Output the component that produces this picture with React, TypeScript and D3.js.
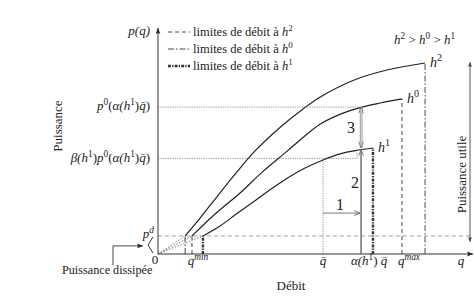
import React from "react";
import * as d3 from "d3";

const W = 474;
const H = 297;

// ---- data (q: débit, p: puissance, both in % of axis length) ----
const qH2 = [8.7, 13.5, 18.3, 25.3, 31.1, 39.1, 46.8, 51.9, 62.5, 73.4, 85.6];
const pH2 = [8.0, 15.9, 24.3, 36.3, 45.6, 56.0, 64.5, 69.4, 76.8, 81.4, 84.5];
const qH0 = [10.9, 18.3, 26.3, 33.3, 41.3, 46.8, 51.9, 58.3, 65.1, 71.2, 78.2];
const pH0 = [8.0, 17.7, 27.0, 36.1, 45.4, 51.9, 57.4, 61.8, 64.9, 66.8, 68.6];
const qH1 = [14.4, 19.9, 25.3, 31.1, 35.9, 41.3, 46.8, 52.9, 58.3, 63.8, 68.9];
const pH1 = [8.0, 12.4, 17.9, 23.6, 28.4, 33.4, 37.8, 41.6, 44.3, 45.9, 46.9];

const pD = 8.0;
const qBar = 52.9;
const alphaQBar = 65.1;
const p0Level = 65.0;
const betaLevel = 42.3;
const pAtAlphaH1 = 46.2;
const step1Level = 18.1;

const curveNames = ["2", "0", "1"];
const legendNames = ["2", "0", "1"];

type Seg = { t: string; i?: boolean; sup?: boolean };

const FONT = "'Liberation Serif', 'Times New Roman', serif";

function MathText(props: {
  x: number;
  y: number;
  segs: Seg[];
  anchor?: "start" | "middle" | "end";
  size?: number;
  fill?: string;
}) {
  const { x, y, segs, anchor = "start", size = 13, fill = "#222" } = props;
  let inSup = false;
  const spans = segs.map((s, k) => {
    let dy: number | undefined = undefined;
    if (s.sup && !inSup) {
      dy = -size * 0.42;
      inSup = true;
    } else if (!s.sup && inSup) {
      dy = size * 0.42;
      inSup = false;
    }
    return (
      <tspan
        key={k}
        dy={dy}
        fontStyle={s.i ? "italic" : "normal"}
        fontSize={s.sup ? size * 0.72 : size}
      >
        {s.t}
      </tspan>
    );
  });
  return (
    <text x={x} y={y} textAnchor={anchor} fontSize={size} fontFamily={FONT} fill={fill}>
      {spans}
    </text>
  );
}

const QBAR = "q\u0304";

const STYLE_DASH = { dash: "4,3", w: 0.9 };
const STYLE_DASHDOT = { dash: "6,2,1.5,2", w: 0.9 };
const STYLE_THICK = { dash: "3,1.2,1.2,1.2", w: 2.4 };

export default function App() {
  const x = d3.scaleLinear().domain([0, 100]).range([158, 470]);
  const y = d3.scaleLinear().domain([0, 100]).range([254, 28]);

  const line = d3
    .line<[number, number]>()
    .x((d) => x(d[0]))
    .y((d) => y(d[1]))
    .curve(d3.curveCatmullRom.alpha(0.5));

  const curves = [
    { q: qH2, p: pH2, name: curveNames[0], ...STYLE_DASHDOT },
    { q: qH0, p: pH0, name: curveNames[1], ...STYLE_DASH },
    { q: qH1, p: pH1, name: curveNames[2], ...STYLE_THICK },
  ];
  const legendStyles = [STYLE_DASH, STYLE_DASHDOT, STYLE_THICK];

  const axisColor = "#333";

  return (
    <svg
      width={W}
      height={H}
      style={{ position: "absolute", left: 0, top: 0, background: "#fff" }}
    >
      <defs>
        <marker id="ah" viewBox="0 0 10 10" refX="10" refY="5" markerWidth="9" markerHeight="6" markerUnits="userSpaceOnUse" orient="auto">
          <path d="M0,1 L10,5 L0,9 L2,5 Z" fill="#222" />
        </marker>
        <marker id="ahs" viewBox="0 0 10 10" refX="10" refY="5" markerWidth="8" markerHeight="5" markerUnits="userSpaceOnUse" orient="auto-start-reverse">
          <path d="M0,1 L10,5 L0,9 L2,5 Z" fill="#444" />
        </marker>
        <marker id="ahg" viewBox="0 0 10 10" refX="10" refY="5" markerWidth="8" markerHeight="6" markerUnits="userSpaceOnUse" orient="auto-start-reverse">
          <path d="M0,1 L10,5 L0,9" fill="none" stroke="#777" strokeWidth="1.6" />
        </marker>
      </defs>

      {/* reference dotted lines */}
      <line x1={x(0)} x2={x(alphaQBar)} y1={y(p0Level)} y2={y(p0Level)} stroke="#777" strokeWidth={0.8} strokeDasharray="1.2,1.2" />
      <line x1={x(0)} x2={x(alphaQBar) - 4} y1={y(betaLevel)} y2={y(betaLevel)} stroke="#777" strokeWidth={0.8} strokeDasharray="1.2,1.2" />
      <line x1={x(alphaQBar) - 4} x2={x(alphaQBar) - 4} y1={y(betaLevel)} y2={y(pAtAlphaH1)} stroke="#777" strokeWidth={0.8} strokeDasharray="1.2,1.2" />
      <line x1={x(qBar)} x2={x(qBar)} y1={y(0)} y2={y(betaLevel)} stroke="#777" strokeWidth={0.8} strokeDasharray="1.2,1.2" />
      {/* p^d dashed */}
      <line x1={x(0)} x2={x(100)} y1={y(pD)} y2={y(pD)} stroke="#888" strokeWidth={0.8} strokeDasharray="4,3" />

      {/* dotted fan from origin */}
      {curves.map((c) => (
        <line key={"f" + c.name} x1={x(0)} y1={y(0)} x2={x(c.q[0])} y2={y(c.p[0])} stroke="#666" strokeWidth={0.8} strokeDasharray="1.5,1.5" />
      ))}

      {/* limit verticals */}
      {curves.map((c) => (
        <g key={"v" + c.name}>
          <line x1={x(c.q[0])} x2={x(c.q[0])} y1={y(0)} y2={y(c.p[0])} stroke="#333" strokeWidth={c.w} strokeDasharray={c.dash} />
          <line x1={x(c.q[c.q.length - 1])} x2={x(c.q[c.q.length - 1])} y1={y(0)} y2={y(c.p[c.p.length - 1])} stroke="#333" strokeWidth={c.w} strokeDasharray={c.dash} />
        </g>
      ))}

      {/* curves */}
      {curves.map((c) => (
        <path
          key={"c" + c.name}
          d={line(c.q.map((q, i) => [q, c.p[i]] as [number, number])) || ""}
          fill="none"
          stroke="#222"
          strokeWidth={1.2}
        />
      ))}

      {/* curve labels */}
      {curves.map((c) => (
        <MathText
          key={"l" + c.name}
          x={x(c.q[c.q.length - 1]) + 5}
          y={y(c.p[c.p.length - 1]) + 4}
          segs={[{ t: "h", i: true }, { t: c.name, sup: true }]}
          size={14}
        />
      ))}

      {/* step arrows */}
      <line x1={x(qBar)} x2={x(alphaQBar) - 1} y1={y(step1Level)} y2={y(step1Level)} stroke="#777" strokeWidth={1} markerEnd="url(#ahg)" />
      <line x1={x(alphaQBar)} x2={x(alphaQBar)} y1={y(0)} y2={y(pAtAlphaH1)} stroke="#888" strokeWidth={1.8} markerEnd="url(#ahg)" />
      <line x1={x(alphaQBar)} x2={x(alphaQBar)} y1={y(pAtAlphaH1) - 2} y2={y(p0Level)} stroke="#888" strokeWidth={2.6} markerStart="url(#ahg)" markerEnd="url(#ahg)" />
      <line x1={x(alphaQBar)} x2={x(alphaQBar)} y1={y(pAtAlphaH1) - 4} y2={y(p0Level) + 2} stroke="#fff" strokeWidth={0.9} />
      <text x={x(qBar) + 17} y={y(step1Level) - 3} fontSize={16} fontFamily={FONT} textAnchor="middle" fill="#222">1</text>
      <text x={x(alphaQBar) - 6} y={y(pAtAlphaH1) + 38} fontSize={16} fontFamily={FONT} textAnchor="middle" fill="#222">2</text>
      <text x={x(alphaQBar) - 10} y={y((p0Level + pAtAlphaH1) / 2) + 5} fontSize={16} fontFamily={FONT} textAnchor="middle" fill="#222">3</text>

      {/* axes */}
      <line x1={x(0)} x2={x(0)} y1={y(0)} y2={28} stroke={axisColor} strokeWidth={1} markerEnd="url(#ah)" />
      <line x1={x(0)} x2={473} y1={y(0)} y2={y(0)} stroke={axisColor} strokeWidth={1} markerEnd="url(#ah)" />

      {/* puissance utile */}
      <line x1={470} x2={470} y1={y(pD) + 6} y2={y(84.5) - 1} stroke="#444" strokeWidth={0.9} markerStart="url(#ahs)" markerEnd="url(#ahs)" />
      <text transform={`translate(466,${(y(pD) + y(84.5)) / 2 + 25}) rotate(-90)`} fontSize={13} fontFamily={FONT} textAnchor="middle" fill="#222">Puissance utile</text>

      {/* puissance dissipée */}
      <path d={`M113,265 L113,${y(pD) + 10} L143,${y(pD) + 10}`} fill="none" stroke="#333" strokeWidth={0.9} markerEnd="url(#ah)" />
      <path d={`M153,${y(pD) + 1} L148,${(y(pD) + y(0)) / 2} L153,${y(0) - 1}`} fill="none" stroke="#333" strokeWidth={1} />
      <text x={62} y={274} fontSize={12.2} fontFamily={FONT} fill="#222">Puissance dissipée</text>

      {/* y labels */}
      <MathText x={150} y={35} anchor="end" segs={[{ t: "p(q)", i: true }]} />
      <MathText
        x={150}
        y={110}
        anchor="end"
        segs={[
          { t: "p", i: true },
          { t: "0", sup: true },
          { t: "(" },
          { t: "α(h", i: true },
          { t: "1", sup: true },
          { t: ")" },
          { t: QBAR, i: true },
          { t: ")" },
        ]}
      />
      <MathText
        x={150}
        y={162}
        anchor="end"
        segs={[
          { t: "β(h", i: true },
          { t: "1", sup: true },
          { t: ")" },
          { t: "p", i: true },
          { t: "0", sup: true },
          { t: "(" },
          { t: "α(h", i: true },
          { t: "1", sup: true },
          { t: ")" },
          { t: QBAR, i: true },
          { t: ")" },
        ]}
      />
      <MathText x={154} y={238} anchor="end" segs={[{ t: "p", i: true }, { t: "d", i: true, sup: true }]} />
      <text transform="translate(62,126) rotate(-90)" fontSize={13} fontFamily={FONT} textAnchor="middle" fill="#222">Puissance</text>

      {/* x labels */}
      <MathText x={x(0) - 3} y={264} anchor="middle" segs={[{ t: "0" }]} />
      <MathText x={x(qH1[0]) - 5} y={265} anchor="middle" segs={[{ t: "q", i: true }, { t: "min", i: true, sup: true }]} />
      <MathText x={x(qBar)} y={265} anchor="middle" segs={[{ t: QBAR, i: true }]} />
      <MathText
        x={x(alphaQBar) + 8}
        y={265}
        anchor="middle"
        segs={[{ t: "α(h", i: true }, { t: "1", sup: true }, { t: ")" }, { t: " " + QBAR, i: true }]}
      />
      <MathText x={x(qH0[qH0.length - 1]) + 7} y={265} anchor="middle" segs={[{ t: "q", i: true }, { t: "max", i: true, sup: true }]} />
      <MathText x={461} y={265} anchor="middle" segs={[{ t: "q", i: true }]} />
      <text x={291} y={290} fontSize={13} fontFamily={FONT} textAnchor="middle" fill="#222">Débit</text>

      {/* relation */}
      <MathText
        x={394}
        y={44}
        segs={[
          { t: "h", i: true },
          { t: "2", sup: true },
          { t: " > " },
          { t: "h", i: true },
          { t: "0", sup: true },
          { t: " > " },
          { t: "h", i: true },
          { t: "1", sup: true },
        ]}
      />

      {/* legend */}
      {legendNames.map((n, k) => (
        <g key={"lg" + n}>
          <line x1={168} x2={190} y1={32 + k * 17} y2={32 + k * 17} stroke="#333" strokeWidth={legendStyles[k].w} strokeDasharray={legendStyles[k].dash} />
          <MathText
            x={193}
            y={36 + k * 17}
            size={12.5}
            segs={[{ t: "limites de débit à " }, { t: "h", i: true }, { t: n, sup: true }]}
          />
        </g>
      ))}
    </svg>
  );
}
